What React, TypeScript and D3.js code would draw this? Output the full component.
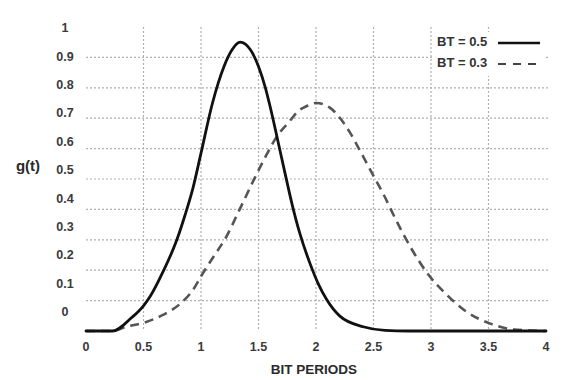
import { useEffect, useRef } from 'react';
import * as d3 from 'd3';

// BT = 0.5 (solid) readings
const solidT = [0, 0.23, 0.4, 0.5, 0.56, 0.67, 0.79, 0.86, 0.93, 1.0, 1.1, 1.2, 1.27, 1.34, 1.43, 1.5, 1.56, 1.6, 1.66, 1.73, 1.79, 1.86, 1.95, 2.02, 2.09, 2.21, 2.41, 2.6, 2.8, 4];
const solidG = [0, 0, 0.045, 0.083, 0.115, 0.195, 0.3, 0.38, 0.47, 0.585, 0.75, 0.87, 0.925, 0.95, 0.925, 0.87, 0.8, 0.74, 0.64, 0.52, 0.42, 0.32, 0.22, 0.155, 0.105, 0.048, 0.014, 0.002, 0, 0];

// BT = 0.3 (dashed) readings
const dashT = [0, 0.23, 0.35, 0.5, 0.67, 0.82, 0.93, 1.0, 1.11, 1.22, 1.33, 1.45, 1.57, 1.66, 1.77, 1.85, 1.92, 2.0, 2.12, 2.21, 2.3, 2.38, 2.5, 2.6, 2.67, 2.82, 2.98, 3.14, 3.31, 3.51, 3.72, 4];
const dashG = [0, 0, 0.014, 0.027, 0.053, 0.09, 0.135, 0.18, 0.245, 0.31, 0.395, 0.49, 0.58, 0.64, 0.69, 0.725, 0.74, 0.75, 0.735, 0.7, 0.65, 0.595, 0.51, 0.44, 0.385, 0.277, 0.184, 0.118, 0.063, 0.025, 0.005, 0];

const xTicks = [0, 0.5, 1, 1.5, 2, 2.5, 3, 3.5, 4];
const xTickLabels = ['0', '0.5', '1', '1.5', '2', '2.5', '3', '3.5', '4'];
const yTicks = [0, 0.1, 0.2, 0.3, 0.4, 0.5, 0.6, 0.7, 0.8, 0.9, 1];
const yTickLabels = ['0', '0.1', '0.2', '0.3', '0.4', '0.5', '0.6', '0.7', '0.8', '0.9', '1'];
const xGrid = [0.5, 1, 1.5, 2, 2.5, 3, 3.5];
const yGrid = [0.1, 0.2, 0.3, 0.4, 0.5, 0.6, 0.7, 0.8, 0.9];
const legendLabels = ['BT = 0.5', 'BT = 0.3'];

const W = 565;
const H = 380;
const FONT = 'Liberation Sans, Arial, sans-serif';

function GaussianPulse() {
  const svgRef = useRef<SVGSVGElement>(null);

  useEffect(() => {
    if (!svgRef.current) return;
    const svg = d3.select(svgRef.current);
    svg.selectAll('*').remove();

    const x = d3.scaleLinear().domain([0, 4]).range([86, 546]);
    const y = d3.scaleLinear().domain([0, 1]).range([331, 27]);
    // the y labels in the scan sit on their own slightly compressed spacing
    const yLab = d3.scaleLinear().domain([0, 1]).range([313, 29]);

    svg.append('rect').attr('width', W).attr('height', H).attr('fill', '#fff');

    // grid
    const grid = svg.append('g')
      .attr('stroke', '#b0b0b0')
      .attr('stroke-width', 1.2)
      .attr('stroke-dasharray', '2,2');
    grid.selectAll('line.v').data(xGrid).join('line')
      .attr('class', 'v')
      .attr('x1', d => x(d)).attr('x2', d => x(d))
      .attr('y1', y(1)).attr('y2', y(0));
    grid.selectAll('line.h').data(yGrid).join('line')
      .attr('class', 'h')
      .attr('x1', x(0)).attr('x2', x(4) + 3)
      .attr('y1', d => y(d)).attr('y2', d => y(d));

    // tick labels
    svg.selectAll('text.xt').data(xTicks).join('text')
      .attr('class', 'xt')
      .attr('x', d => x(d))
      .attr('y', 348)
      .attr('text-anchor', 'middle')
      .attr('dominant-baseline', 'middle')
      .style('font-family', FONT)
      .style('font-size', '12.5px')
      .style('font-weight', '700')
      .style('fill', '#3a3a3a')
      .text((_, i) => xTickLabels[i]);

    svg.selectAll('text.yt').data(yTicks).join('text')
      .attr('class', 'yt')
      .attr('x', 65)
      .attr('y', d => yLab(d))
      .attr('text-anchor', 'middle')
      .attr('dominant-baseline', 'middle')
      .style('font-family', FONT)
      .style('font-size', '12.5px')
      .style('font-weight', '700')
      .style('fill', '#3a3a3a')
      .text((_, i) => yTickLabels[i]);

    // axis titles
    svg.append('text')
      .attr('x', 314).attr('y', 370)
      .attr('text-anchor', 'middle')
      .attr('dominant-baseline', 'middle')
      .style('font-family', FONT)
      .style('font-size', '13.5px')
      .style('font-weight', '700')
      .style('fill', '#2a2a2a')
      .text('BIT PERIODS');

    svg.append('text')
      .attr('x', 28).attr('y', 167)
      .attr('text-anchor', 'middle')
      .attr('dominant-baseline', 'middle')
      .style('font-family', FONT)
      .style('font-size', '15px')
      .style('font-weight', '700')
      .style('fill', '#2a2a2a')
      .text('g(t)');

    const line = d3.line<[number, number]>()
      .x(d => x(d[0]))
      .y(d => y(d[1]))
      .curve(d3.curveMonotoneX);

    svg.append('path')
      .attr('d', line(dashT.map((t, i) => [t, dashG[i]]))!)
      .attr('fill', 'none')
      .attr('stroke', '#555')
      .attr('stroke-width', 2.6)
      .attr('stroke-dasharray', '9,6');

    svg.append('path')
      .attr('d', line(solidT.map((t, i) => [t, solidG[i]]))!)
      .attr('fill', 'none')
      .attr('stroke', '#111')
      .attr('stroke-width', 2.8)
      .attr('stroke-linecap', 'round');

    // legend
    const leg = svg.append('g');
    leg.append('rect')
      .attr('x', 434).attr('y', 32).attr('width', 110).attr('height', 44)
      .attr('fill', '#fff');
    legendLabels.forEach((lab, i) => {
      const ly = 43 + i * 21;
      leg.append('text')
        .attr('x', 437).attr('y', ly)
        .attr('dominant-baseline', 'middle')
        .style('font-family', FONT)
        .style('font-size', '13px')
        .style('font-weight', '700')
        .style('fill', '#333')
        .text(lab);
      leg.append('line')
        .attr('x1', 498).attr('x2', 540)
        .attr('y1', ly).attr('y2', ly)
        .attr('stroke', i === 0 ? '#111' : '#444')
        .attr('stroke-width', i === 0 ? 2.4 : 2.2)
        .attr('stroke-dasharray', i === 0 ? null : '8,7');
    });
  }, []);

  return (
    <svg
      ref={svgRef}
      width={W}
      height={H}
      style={{ position: 'absolute', left: 0, top: 0, display: 'block' }}
    />
  );
}

export default function App() {
  return <GaussianPulse />;
}
